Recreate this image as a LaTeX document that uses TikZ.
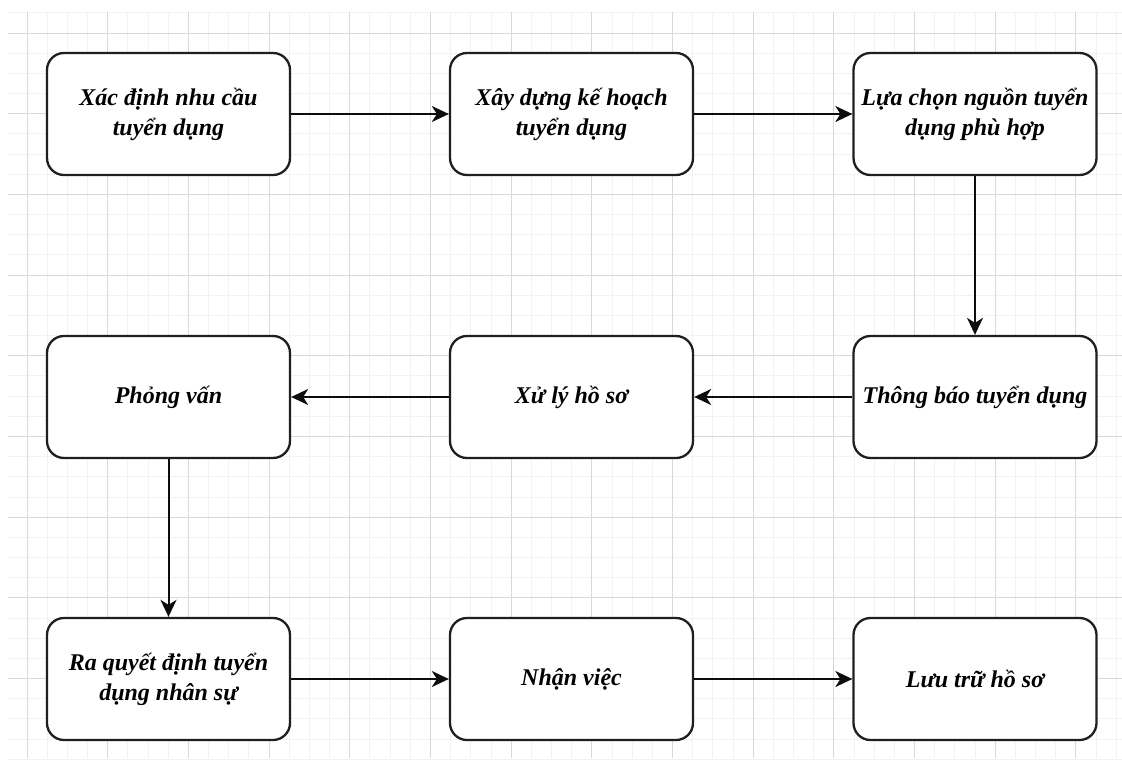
\documentclass[tikz,border=0pt]{standalone}
\usepackage{fontspec}
\setmainfont{Liberation Serif}
\usetikzlibrary{arrows.meta}
\begin{document}
\begin{tikzpicture}[x=1pt,y=-1pt,
  box/.style={draw=black!88, line width=2.3pt, rounded corners=17pt, fill=white,
    minimum width=243pt, minimum height=122pt, align=center, inner sep=0pt,
    font=\fontsize{24}{30}\selectfont\bfseries\itshape},
  arr/.style={-{Stealth[length=17pt,width=16pt,inset=5pt]}, line width=2pt, draw=black!95},
  minorgrid/.style={draw=black!5, line width=0.8pt},
  majorgrid/.style={draw=black!15, line width=0.9pt}]
\useasboundingbox (0,0) rectangle (1122,763);
\fill[white] (0,0) rectangle (1122,763);
% grid
\foreach \i in {0,...,54} \draw[minorgrid] ({27+20.17*\i},12) -- ({27+20.17*\i},758);
\foreach \i in {-1,...,36} \draw[minorgrid] (8,{33+20.17*\i}) -- (1122,{33+20.17*\i});
\foreach \i in {0,...,13} \draw[majorgrid] ({27+80.68*\i},12) -- ({27+80.68*\i},758);
\foreach \i in {0,...,8} \draw[majorgrid] (8,{33+80.68*\i}) -- (1122,{33+80.68*\i});
% nodes
\node[box] (n1) at (168.5,114) {Xác định nhu cầu\\tuyển dụng};
\node[box] (n2) at (571.5,114) {Xây dựng kế hoạch\\tuyển dụng};
\node[box] (n3) at (975,114) {Lựa chọn nguồn tuyển\\dụng phù hợp};
\node[box] (n4) at (168.5,397) {Phỏng vấn};
\node[box] (n5) at (571.5,397) {Xử lý hồ sơ};
\node[box] (n6) at (975,397) {Thông báo tuyển dụng};
\node[box] (n7) at (168.5,679) {Ra quyết định tuyển\\dụng nhân sự};
\node[box] (n8) at (571.5,679) {Nhận việc};
\node[box] (n9) at (975,679) {Lưu trữ hồ sơ};
% connectors
\draw[arr] (n1) -- (n2);
\draw[arr] (n2) -- (n3);
\draw[arr] (n3) -- (n6);
\draw[arr] (n6) -- (n5);
\draw[arr] (n5) -- (n4);
\draw[arr] (n4) -- (n7);
\draw[arr] (n7) -- (n8);
\draw[arr] (n8) -- (n9);
\end{tikzpicture}
\end{document}
